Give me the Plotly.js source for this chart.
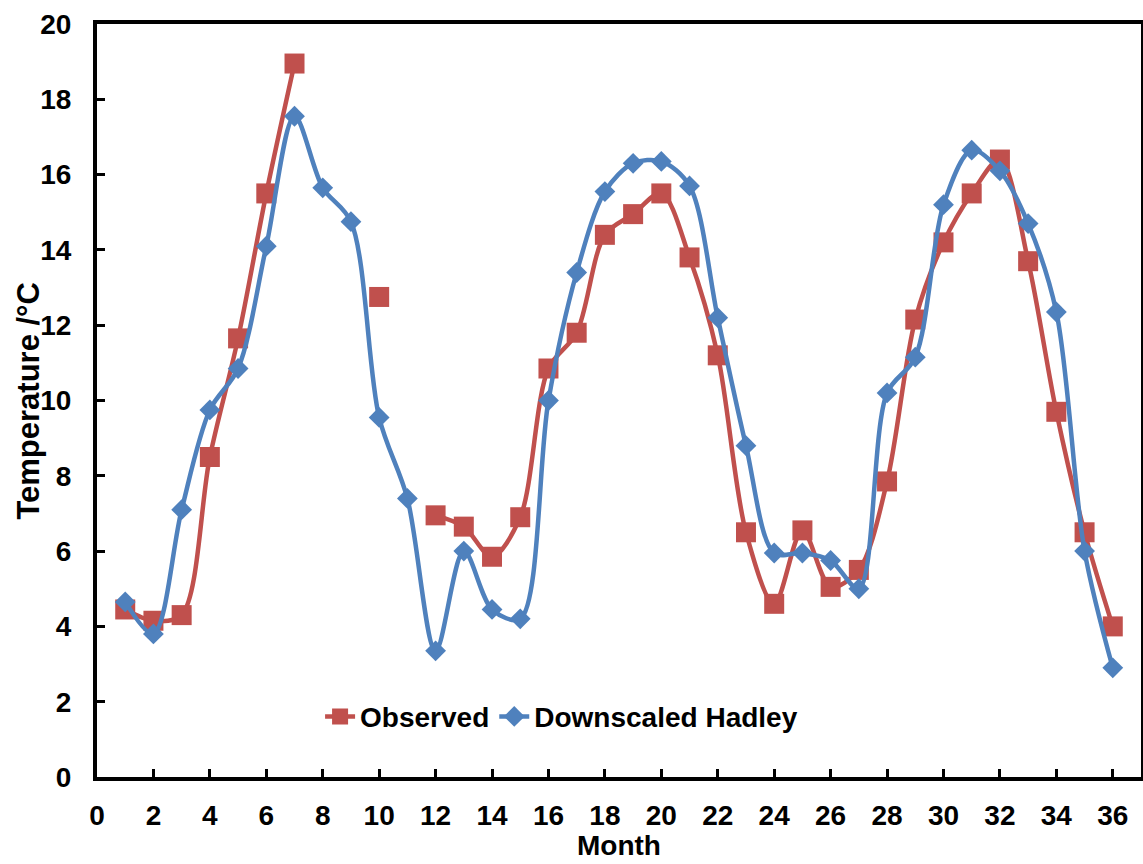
<!DOCTYPE html>
<html>
<head>
<meta charset="utf-8">
<script src="https://cdn.plot.ly/plotly-3.0.1.min.js"></script>
<style>html,body{margin:0;padding:0;background:#fff;}#chart{width:1143px;height:864px;}</style>
</head>
<body>
<div id="chart"></div>
<script>
const months = [1,2,3,4,5,6,7,8,9,10,11,12,13,14,15,16,17,18,19,20,21,22,23,24,25,26,27,28,29,30,31,32,33,34,35,36];
const observed = [4.45,4.15,4.3,8.5,11.65,15.5,18.95,null,null,12.75,null,6.95,6.65,5.85,6.9,10.85,11.8,14.4,14.95,15.5,13.8,11.2,6.5,4.6,6.55,5.05,5.5,7.85,12.15,14.2,15.5,16.4,13.7,9.7,6.5,4.0];
const hadley = [4.65,3.8,7.1,9.75,10.85,14.1,17.55,15.65,14.75,9.55,7.4,3.35,6.0,4.45,4.2,10.0,13.4,15.55,16.3,16.35,15.7,12.2,8.8,5.95,5.95,5.75,5.0,10.2,11.15,15.2,16.65,16.1,14.7,12.35,6.0,2.9];
const seriesNames = ['Observed','Downscaled Hadley'];
const yTitle = 'Temperature /°C';
const xTitle = 'Month';
const font = 'Liberation Sans, Arial, sans-serif';
const traces = [
  {x: months, y: observed, name: seriesNames[0], mode: 'lines+markers', connectgaps: false,
   line: {color: '#C0504D', width: 4.5, shape: 'spline', smoothing: 0.9},
   marker: {symbol: 'square', size: 20, color: '#C0504D'}},
  {x: months, y: hadley, name: seriesNames[1], mode: 'lines+markers',
   line: {color: '#4F81BD', width: 4.5, shape: 'spline', smoothing: 0.9},
   marker: {symbol: 'diamond', size: 16, color: '#4F81BD'}}
];
const layout = {
  width: 1143, height: 864,
  margin: {l: 97, r: 2, t: 24, b: 87},
  paper_bgcolor: '#fff', plot_bgcolor: '#fff',
  font: {family: font, size: 28, color: '#000', weight: 'bold'},
  showlegend: true,
  legend: {orientation: 'h', x: 0.445, xanchor: 'center', y: 0.08, yanchor: 'middle',
           font: {family: font, size: 28, weight: 'bold'}, bgcolor: 'rgba(0,0,0,0)', tracegroupgap: 0},
  xaxis: {range: [0, 37], dtick: 2, tick0: 0, showgrid: false, zeroline: false,
          showline: true, linecolor: '#000', linewidth: 4, mirror: true,
          ticks: 'inside', ticklen: 8, tickwidth: 3, tickcolor: '#000',
          ticklabelstandoff: 10,
          tickfont: {family: font, size: 28, weight: 'bold'}},
  yaxis: {range: [0, 20], dtick: 2, tick0: 0, showgrid: false, zeroline: false,
          showline: true, linecolor: '#000', linewidth: 4, mirror: true,
          ticks: 'inside', ticklen: 8, tickwidth: 3, tickcolor: '#000',
          ticklabelstandoff: 16,
          tickfont: {family: font, size: 28, weight: 'bold'}},
  annotations: [
    {text: yTitle, xref: 'paper', yref: 'paper', x: -0.066, y: 0.5, xanchor: 'center', yanchor: 'middle',
     textangle: -90, showarrow: false, font: {family: font, size: 31, weight: 'bold', color: '#000'}},
    {text: xTitle, xref: 'paper', yref: 'paper', x: 0.5, y: -0.1135, xanchor: 'center', yanchor: 'bottom',
     borderpad: 0, showarrow: false, font: {family: font, size: 28, weight: 'bold', color: '#000'}}
  ]
};
Plotly.newPlot('chart', traces, layout, {displayModeBar: false, staticPlot: true});
</script>
</body>
</html>
